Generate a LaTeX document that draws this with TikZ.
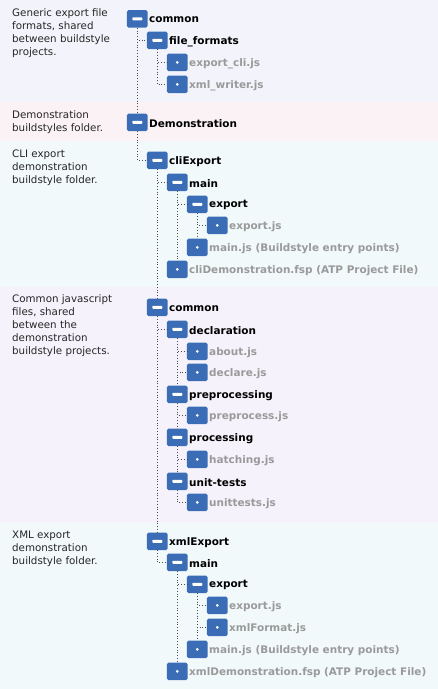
\documentclass[tikz,border=0pt]{standalone}
\usepackage{fontspec}
\setmainfont{DejaVu Sans}
\definecolor{bandA}{HTML}{F3F4FB}
\definecolor{bandB}{HTML}{FBF2F5}
\definecolor{bandC}{HTML}{F1F9FB}
\definecolor{bandD}{HTML}{F5F2FB}
\definecolor{boxblue}{HTML}{3A6DB5}
\definecolor{filegray}{HTML}{9A9A9A}
\tikzset{
 x=1pt,y=-1pt,
 band/.style={fill=#1,draw=none},
 icon/.style={fill=boxblue,draw=none,rounded corners=1.6pt,minimum width=20.8pt,minimum height=17.4pt,inner sep=0pt},
 dirlabel/.style={anchor=west,inner sep=0pt,font=\fontsize{10.45}{12}\selectfont\bfseries,text=black},
 filelabel/.style={anchor=west,inner sep=0pt,font=\fontsize{10.45}{12}\selectfont\bfseries,text=filegray},
 note/.style={anchor=north west,inner sep=0pt,align=left,font=\fontsize{10.3}{13}\selectfont,text=black!85},
 link/.style={draw=black!70,line width=0.8pt,dotted},
 minusbar/.style={fill=white,draw=none,rounded corners=0.8pt},
}
\newcommand{\dirrow}[4]{% name, x, y, text
 \node[icon] (#1) at (#2+0.3,#3+0.3) {};
 \fill[minusbar] (#2-4.7,#3-1.2) rectangle (#2+5.3,#3+1.8);
 \node[dirlabel] (#1t) at (#2+12,#3+1.4) {#4};
}
\newcommand{\filerow}[4]{%
 \node[icon] (#1) at (#2+0.3,#3+0.3) {};
 \fill[white] (#2+0.3,#3+0.3) circle (1.5);
 \node[filelabel] (#1t) at (#2+12,#3+1.4) {#4};
}
\begin{document}
\begin{tikzpicture}
\useasboundingbox (0,0) rectangle (438,689);
\fill[band=bandA] (0,0) rectangle (438,102);
\fill[band=bandB] (0,102) rectangle (438,141);
\fill[band=bandC] (0,141) rectangle (438,287);
\fill[band=bandD] (0,287) rectangle (438,523);
\fill[band=bandC] (0,523) rectangle (438,689);

\node[note] (n1) at (12,8.5) {Generic export file\\formats, shared\\between buildstyle\\projects.};
\node[note] (n2) at (12,110.3) {Demonstration\\buildstyles folder.};
\node[note] (n3) at (12,149.3) {CLI export\\demonstration\\buildstyle folder.};
\node[note] (n4) at (12,294.8) {Common javascript\\files, shared\\between the\\demonstration\\buildstyle projects.};
\node[note] (n5) at (12,530.8) {XML export\\demonstration\\buildstyle folder.};

\dirrow{a}{137}{18.5}{common}
\dirrow{b}{157}{40}{file\_formats}
\filerow{c}{177}{62}{export\_cli.js}
\filerow{d}{177}{84}{xml\_writer.js}
\dirrow{e}{137}{122}{Demonstration}
\dirrow{f}{157}{160}{cliExport}
\dirrow{g}{177}{182}{main}
\dirrow{h}{197}{204}{export}
\filerow{i}{217}{225}{export.js}
\filerow{j}{197}{247}{main.js (Buildstyle entry points)}
\filerow{k}{177}{269}{cliDemonstration.fsp (ATP Project File)}
\dirrow{l}{157}{307}{common}
\dirrow{m}{177}{329}{declaration}
\filerow{o}{197}{351}{about.js}
\filerow{p}{197}{372}{declare.js}
\dirrow{q}{177}{394}{preprocessing}
\filerow{r}{197}{415}{preprocess.js}
\dirrow{s}{177}{437}{processing}
\filerow{t}{197}{459}{hatching.js}
\dirrow{u}{177}{481}{unit-tests}
\filerow{v}{197}{502}{unittests.js}
\dirrow{w}{157}{541}{xmlExport}
\dirrow{x}{177}{562}{main}
\dirrow{y}{197}{584}{export}
\filerow{z}{217}{605}{export.js}
\filerow{za}{217}{627}{xmlFormat.js}
\filerow{zb}{197}{649}{main.js (Buildstyle entry points)}
\filerow{zc}{177}{671}{xmlDemonstration.fsp (ATP Project File)}

\path[link] (a.south) -- (e.north);
\path[link] (a.south) |- (b.west);
\path[link] (b.south) |- (c.west);
\path[link] (b.south) |- (d.west);
\path[link] (e.south) |- (f.west);
\path[link] (f.south) |- (g.west);
\path[link] (f.south) -- (l.north);
\path[link] (g.south) |- (h.west);
\path[link] (g.south) -- (k.north);
\path[link] (h.south) |- (i.west);
\path[link] (h.south) -- (j.north);
\path[link] (l.south) |- (m.west);
\path[link] (l.south) -- (w.north);
\path[link] (m.south) |- (o.west);
\path[link] (m.south) |- (p.west);
\path[link] (m.south) -- (q.north);
\path[link] (q.south) |- (r.west);
\path[link] (q.south) -- (s.north);
\path[link] (s.south) |- (t.west);
\path[link] (s.south) -- (u.north);
\path[link] (u.south) |- (v.west);
\path[link] (w.south) |- (x.west);
\path[link] (x.south) |- (y.west);
\path[link] (x.south) -- (zc.north);
\path[link] (y.south) |- (z.west);
\path[link] (y.south) |- (za.west);
\path[link] (y.south) -- (zb.north);
\end{tikzpicture}
\end{document}
